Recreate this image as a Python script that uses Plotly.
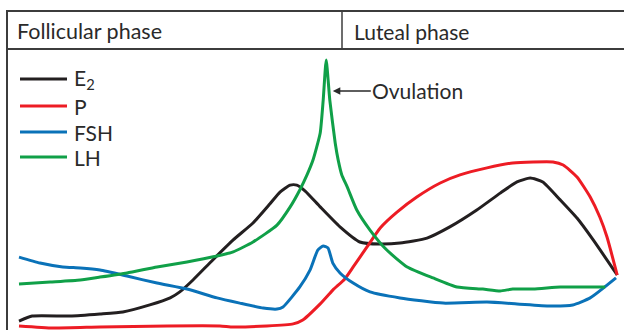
import plotly.graph_objects as go

# Cycle position (% of cycle) and relative hormone level (% of LH peak)
e2_x = [0, 2.2, 8.5, 13.5, 17.3, 21.8, 25.2, 26.8, 29.0, 32.3, 35.7, 39.0, 41.8, 43.5, 45.2, 46.3,
        47.7, 50.2, 53.5, 56.8, 60.2, 63.5, 68.0, 71.8, 76.3, 80.2, 83.0, 85.2, 87.3, 90.2, 93.0, 95.7, 99.7]
e2_y = [-0.4, 1.5, 1.5, 2.3, 3.1, 5.8, 8.5, 10.8, 15.4, 23.1, 30.8, 37.3, 44.6, 49.2, 51.9, 51.9,
        49.6, 43.5, 35.8, 30.0, 29.2, 29.6, 31.5, 35.8, 42.3, 48.8, 53.1, 54.6, 53.1, 46.2, 39.2, 30.8, 17.3]

p_x = [0, 5.7, 13.5, 24.7, 33.5, 35.7, 41.3, 45.7, 47.3, 50.2, 52.3, 54.3, 55.7, 58.0, 60.2, 63.0,
       66.3, 70.2, 73.5, 78.0, 82.3, 85.7, 89.0, 90.7, 93.0, 95.2, 96.8, 98.0, 99.7]
p_y = [-2.3, -3.1, -2.7, -2.3, -2.3, -2.7, -2.3, -1.5, 0.0, 6.2, 11.5, 15.8, 20.4, 28.1, 35.4, 41.5,
       47.3, 52.7, 55.8, 58.5, 60.4, 60.8, 60.8, 59.6, 55.0, 47.3, 39.6, 31.9, 17.3]

fsh_x = [0, 3.5, 7.3, 10.2, 13.5, 18.0, 23.0, 28.0, 33.0, 36.8, 40.7, 43.0, 44.0, 46.8, 48.5, 49.8,
         50.7, 51.5, 52.3, 53.5, 55.7, 58.5, 63.5, 70.7, 78.0, 83.0, 88.5, 92.3, 95.2, 99.5]
fsh_y = [24.2, 21.9, 20.4, 20.0, 19.2, 16.9, 14.2, 11.9, 8.5, 6.5, 4.6, 4.2, 5.0, 12.7, 19.2, 26.9,
         28.5, 27.7, 21.9, 18.1, 14.2, 10.8, 8.5, 6.5, 6.9, 6.2, 5.4, 5.8, 8.5, 16.2]

lh_x = [0, 5.2, 10.2, 13.5, 18.0, 23.0, 28.0, 33.0, 35.7, 39.0, 43.0, 45.2, 46.8, 48.0, 49.0, 50.2,
        50.7, 51.2, 51.8, 52.7, 53.2, 53.8, 54.7, 56.3, 58.5, 61.3, 64.7, 69.0, 73.0, 77.3, 80.2,
        82.3, 85.7, 90.2, 93.5, 97.7]
lh_y = [13.8, 14.6, 15.4, 16.5, 18.1, 20.4, 22.3, 24.6, 26.2, 30.0, 36.5, 43.5, 50.0, 55.8, 61.5, 71.9,
        84.6, 100.0, 84.6, 68.1, 61.5, 55.8, 51.2, 42.3, 34.6, 26.9, 20.4, 16.2, 12.7, 11.9, 11.2,
        11.9, 11.9, 12.7, 12.7, 12.7]

series_names = ["E<sub>2</sub>", "P", "FSH", "LH"]
series_colors = ["#231f20", "#ed1c24", "#0a72b8", "#10a048"]
series_x = [e2_x, p_x, fsh_x, lh_x]
series_y = [e2_y, p_y, fsh_y, lh_y]

phase_labels = ["Follicular phase", "Luteal phase"]
ovulation_label = "Ovulation"

W, H = 624, 330
FONT = "Lato"
TEXT_COLOR = "#2a2a2a"
FRAME = "#3c3c3c"

fig = go.Figure()
for name, color, xs, ys in zip(series_names, series_colors, series_x, series_y):
    fig.add_trace(go.Scatter(x=xs, y=ys, mode="lines", name=name,
                             line=dict(color=color, width=3, shape="spline", smoothing=0.5),
                             showlegend=False, hoverinfo="skip"))


def px(x):
    return x / W


def py(y):
    return 1 - y / H


shapes = []
# frame / header
shapes.append(dict(type="line", xref="paper", yref="paper", x0=px(6), x1=1.01, y0=py(11), y1=py(11),
                   line=dict(color=FRAME, width=2)))
shapes.append(dict(type="line", xref="paper", yref="paper", x0=px(6), x1=1.01, y0=py(49), y1=py(49),
                   line=dict(color=FRAME, width=2)))
shapes.append(dict(type="line", xref="paper", yref="paper", x0=px(7), x1=px(7), y0=py(10), y1=-0.01,
                   line=dict(color=FRAME, width=2)))
shapes.append(dict(type="line", xref="paper", yref="paper", x0=px(342), x1=px(342), y0=py(11), y1=py(49),
                   line=dict(color=FRAME, width=1.5)))

annotations = []
annotations.append(dict(text=phase_labels[0], xref="paper", yref="paper", x=px(15), y=py(31),
                        xanchor="left", yanchor="middle", showarrow=False,
                        font=dict(family=FONT, size=21.5, color=TEXT_COLOR)))
annotations.append(dict(text=phase_labels[1], xref="paper", yref="paper", x=px(352), y=py(31),
                        xanchor="left", yanchor="middle", showarrow=False,
                        font=dict(family=FONT, size=21, color=TEXT_COLOR)))

# legend
legend_y = [79, 106, 132, 157]
for name, color, ly in zip(series_names, series_colors, legend_y):
    shapes.append(dict(type="line", xref="paper", yref="paper", x0=px(20), x1=px(67), y0=py(ly), y1=py(ly),
                       line=dict(color=color, width=3)))
    annotations.append(dict(text=name, xref="paper", yref="paper", x=px(72), y=py(ly),
                            xanchor="left", yanchor="middle", showarrow=False,
                            font=dict(family=FONT, size=21, color=TEXT_COLOR)))

# ovulation arrow
annotations.append(dict(text=ovulation_label, x=52.3, y=88.1, xref="x", yref="y",
                        ax=85, ay=0, showarrow=True, arrowhead=2, arrowsize=1, arrowwidth=1.5,
                        arrowcolor=TEXT_COLOR, standoff=0,
                        font=dict(family=FONT, size=21, color=TEXT_COLOR)))

fig.update_layout(
    width=W, height=H,
    margin=dict(l=0, r=0, t=0, b=0),
    paper_bgcolor="white", plot_bgcolor="white",
    xaxis=dict(range=[-19 / 6, 605 / 6], visible=False, fixedrange=True),
    yaxis=dict(range=[-10 / 2.6, 320 / 2.6], visible=False, fixedrange=True),
    shapes=shapes, annotations=annotations,
)

fig.write_html("out.html", config={"displayModeBar": False, "staticPlot": True},
               post_script="document.body.style.margin='0px';")
